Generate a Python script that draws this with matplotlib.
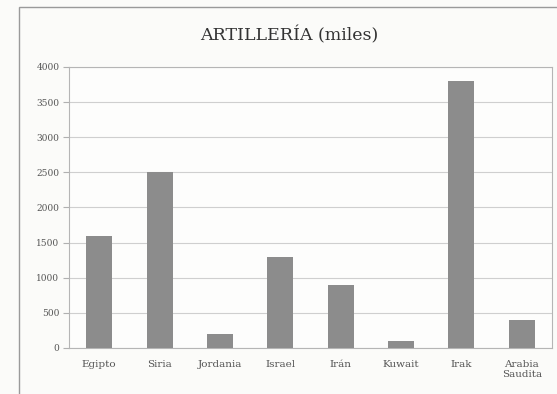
import matplotlib.pyplot as plt
from matplotlib.patches import Rectangle

paises = ["Egipto", "Siria", "Jordania", "Israel", "Irán", "Kuwait", "Irak", "Arabia\nSaudita"]
artilleria = [1600, 2500, 200, 1300, 900, 100, 3800, 400]
yticks = [0, 500, 1000, 1500, 2000, 2500, 3000, 3500, 4000]

plt.rcParams["font.family"] = ["DejaVu Serif"]

fig = plt.figure(figsize=(5.57, 3.94), dpi=100)
fig.patch.set_facecolor("#fbfbf9")
ax = fig.add_axes([0.124, 0.117, 0.867, 0.713])
ax.set_facecolor("#fdfdfc")

# thin frame around the whole chart, as in the scanned page
fig.patches.append(Rectangle((19 / 557, -0.05), 1.2, 1 - 7 / 394 + 0.05,
                             transform=fig.transFigure, fill=False,
                             edgecolor="#9a9a9a", linewidth=1.0))

x = range(len(paises))
ax.bar(x, artilleria, width=0.43, color="#8c8c8c", zorder=3)

ax.set_xlim(-0.5, len(paises) - 0.5)
ax.set_ylim(0, 4000)
ax.set_yticks(yticks)
ax.set_yticklabels([str(v) for v in yticks], fontsize=6.5, color="#555555")
ax.set_xticks(list(x))
ax.set_xticklabels(paises, fontsize=7.5, color="#555555", va="top", linespacing=1.1)
ax.tick_params(axis="x", length=0, pad=9)
ax.tick_params(axis="y", length=4, width=0.8, color="#b0b0b0", pad=3)

ax.grid(axis="y", color="#cfcfcf", linewidth=0.8, zorder=0)
for side in ["top", "right", "left", "bottom"]:
    ax.spines[side].set_color("#b5b5b5")
    ax.spines[side].set_linewidth(0.8)

fig.text(0.52, 0.911, "ARTILLERÍA (miles)", ha="center", va="center",
         fontsize=12.5, color="#333333")

plt.savefig("out.png", dpi=100, facecolor=fig.get_facecolor())
